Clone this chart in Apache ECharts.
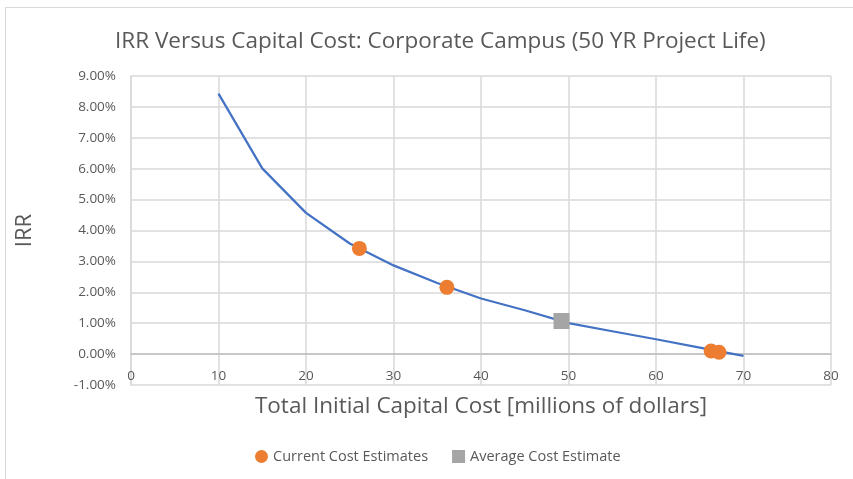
<!DOCTYPE html>
<html>
<head>
<meta charset="utf-8">
<script src="https://cdn.jsdelivr.net/npm/echarts@6/dist/echarts.min.js"></script>
<style>
  html, body { margin: 0; padding: 0; background: #fff; }
  #frame { position: absolute; left: 5px; top: 7px; width: 860px; height: 480px; border: 1px solid #d9d9d9; box-sizing: border-box; }
  #chart { position: absolute; left: 0; top: 0; width: 853px; height: 479px; }
</style>
</head>
<body>
<div id="frame"></div>
<div id="chart"></div>
<script>
// IRR curve (x in millions of dollars, y in %)
const costX = [10, 15, 20, 25, 30, 35, 40, 45, 50, 55, 60, 65, 70]
const irrY = [8.43, 6.01, 4.57, 3.58, 2.87, 2.30, 1.80, 1.42, 1.00, 0.74, 0.48, 0.21, -0.06]

// marker points
const currentX = [26.1, 36.1, 66.3, 67.2]
const currentY = [3.42, 2.16, 0.10, 0.06]
const averageX = [49.2]
const averageY = [1.07]

const labelColor = '#595959'
const font = '"Open Sans", sans-serif'

const chart = echarts.init(document.getElementById('chart'))
const option = {
  animation: false,
  title: {
    text: 'IRR Versus Capital Cost: Corporate Campus (50 YR Project Life)',
    left: 110,
    top: 25,
    textStyle: { fontFamily: font, fontSize: 22.5, fontWeight: 'normal', color: labelColor }
  },
  legend: {
    bottom: 10,
    left: 250,
    itemGap: 24,
    itemWidth: 13,
    itemHeight: 13,
    data: [
      { name: 'Current Cost Estimates', icon: 'circle' },
      { name: 'Average Cost Estimate', icon: 'rect' }
    ],
    textStyle: { fontFamily: font, fontSize: 14.5, color: labelColor }
  },
  grid: { left: 131, right: 22, top: 76, bottom: 94 },
  xAxis: {
    type: 'value',
    min: 0,
    max: 80,
    interval: 10,
    name: 'Total Initial Capital Cost [millions of dollars]',
    nameLocation: 'middle',
    nameGap: 10,
    nameTextStyle: { fontFamily: font, fontSize: 22.5, color: labelColor },
    axisLine: { onZero: true, lineStyle: { color: '#bfbfbf', width: 1.5 } },
    axisTick: { show: false },
    axisLabel: { fontFamily: font, fontSize: 13.5, color: labelColor, margin: -16 },
    splitLine: { lineStyle: { color: '#d9d9d9', width: 1.5 } }
  },
  yAxis: {
    type: 'value',
    min: -1,
    max: 9,
    interval: 1,
    name: 'IRR',
    nameLocation: 'middle',
    nameGap: 95,
    nameTextStyle: { fontFamily: font, fontSize: 22, color: labelColor },
    axisLine: { show: true, lineStyle: { color: '#d9d9d9', width: 1.5 } },
    axisTick: { show: false },
    axisLabel: {
      fontFamily: font, fontSize: 13.5, color: labelColor, margin: 15,
      formatter: v => v.toFixed(2) + '%'
    },
    splitLine: { lineStyle: { color: '#d9d9d9', width: 1.5 } }
  },
  series: [
    {
      name: 'IRR',
      type: 'line',
      data: costX.map((x, i) => [x, irrY[i]]),
      showSymbol: false,
      lineStyle: { color: '#4472c4', width: 2.25 },
      z: 2
    },
    {
      name: 'Current Cost Estimates',
      type: 'scatter',
      symbol: 'circle',
      symbolSize: 15,
      itemStyle: { color: '#ed7d31', opacity: 1 },
      data: currentX.map((x, i) => [x, currentY[i]]),
      z: 3
    },
    {
      name: 'Average Cost Estimate',
      type: 'scatter',
      symbol: 'rect',
      symbolSize: 16,
      itemStyle: { color: '#a5a5a5', opacity: 1 },
      data: averageX.map((x, i) => [x, averageY[i]]),
      z: 3
    }
  ]
}
chart.setOption(option)
</script>
</body>
</html>
